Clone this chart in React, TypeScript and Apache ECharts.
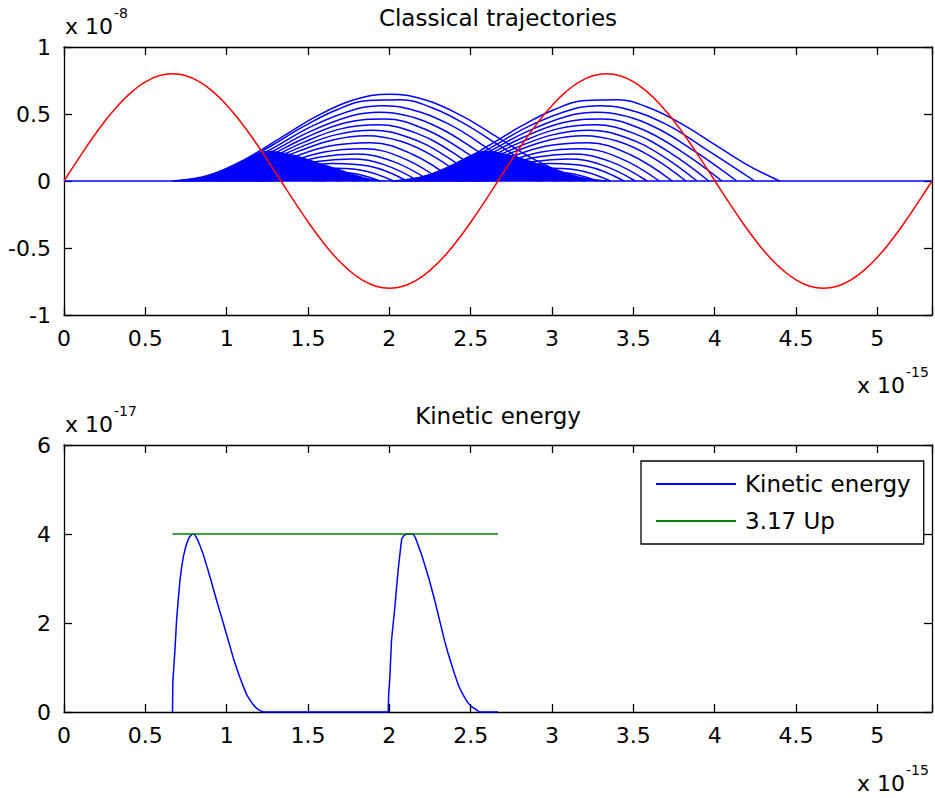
import React, { useEffect, useRef } from 'react';
import * as echarts from 'echarts';

const FONT = '"DejaVu Sans", sans-serif';

// time axis (units of 1e-15 s): two optical cycles
const X_MAX = 5.336;
const X_INTERVAL = 0.5;
const TOP_Y = { min: -1, max: 1, interval: 0.5 };
const BOT_Y = { min: 0, max: 6, interval: 2 };

// red curve (driving field, units of 1e-8)
const RED_T = [0, 0.0834, 0.1668, 0.2501, 0.3335, 0.4169, 0.5003, 0.5836, 0.667, 0.7504, 0.8338, 0.9171, 1.0005, 1.0839, 1.1673, 1.2506, 1.334, 1.4174, 1.5008, 1.5841, 1.6675, 1.7509, 1.8343, 1.9176, 2.001, 2.0844, 2.1678, 2.2511, 2.3345, 2.4179, 2.5013, 2.5846, 2.668, 2.7514, 2.8348, 2.9181, 3.0015, 3.0849, 3.1683, 3.2516, 3.335, 3.4184, 3.5018, 3.5851, 3.6685, 3.7519, 3.8353, 3.9186, 4.002, 4.0854, 4.1688, 4.2521, 4.3355, 4.4189, 4.5023, 4.5856, 4.669, 4.7524, 4.8358, 4.9191, 5.0025, 5.0859, 5.1693, 5.2526, 5.336];
const RED_V = [0, 0.156, 0.306, 0.444, 0.566, 0.665, 0.739, 0.785, 0.8, 0.785, 0.739, 0.665, 0.566, 0.444, 0.306, 0.156, 0, -0.156, -0.306, -0.444, -0.566, -0.665, -0.739, -0.785, -0.8, -0.785, -0.739, -0.665, -0.566, -0.444, -0.306, -0.156, 0, 0.156, 0.306, 0.444, 0.566, 0.665, 0.739, 0.785, 0.8, 0.785, 0.739, 0.665, 0.566, 0.444, 0.306, 0.156, 0, -0.156, -0.306, -0.444, -0.566, -0.665, -0.739, -0.785, -0.8, -0.785, -0.739, -0.665, -0.566, -0.444, -0.306, -0.156, 0];

// blue baseline
const BASE_T = [0, 5.336];
const BASE_V = [0, 0];

// classical trajectories of the first half-cycle (times and heights)
const ARC_T: number[][] = [
  [0.667, 0.8893, 1.1117, 1.334, 1.5563, 1.7787, 2.001, 2.2233, 2.4457, 2.668, 2.8903, 3.1127, 3.335],
  [0.6818, 0.8803, 1.0789, 1.2774, 1.4759, 1.6744, 1.873, 2.0715, 2.27, 2.4685, 2.667, 2.8655, 3.0641],
  [0.7041, 0.98, 1.2559, 1.5318, 1.8077, 1.964, 2.0836, 2.3595, 2.6354, 2.9113],
  [0.7263, 0.9857, 1.2452, 1.5046, 1.764, 1.9417, 2.0235, 2.2829, 2.5423, 2.8018],
  [0.7485, 0.9938, 1.2391, 1.4843, 1.7296, 1.9748, 2.2201, 2.4653, 2.7106],
  [0.7707, 1.0032, 1.2356, 1.468, 1.7005, 1.9329, 2.1653, 2.3978, 2.6302],
  [0.793, 1.0135, 1.234, 1.4545, 1.675, 1.8955, 2.1161, 2.3366, 2.5571],
  [0.8152, 1.0245, 1.2337, 1.443, 1.6522, 1.8615, 2.0707, 2.28, 2.4892],
  [0.8449, 1.1049, 1.3649, 1.6249, 1.8849, 2.1449, 2.4049],
  [0.8745, 1.1164, 1.3583, 1.6001, 1.842, 2.0839, 2.3257],
  [0.9042, 1.1285, 1.353, 1.5773, 1.8017, 2.0261, 2.2505],
  [0.9338, 1.1412, 1.3487, 1.5561, 1.7635, 1.971, 2.1784],
  [0.9634, 1.1925, 1.4216, 1.6507, 1.8798, 2.1088],
  [1.0005, 1.2053, 1.4102, 1.615, 1.8198, 2.0247],
  [1.0376, 1.2186, 1.3998, 1.5809, 1.7619, 1.943],
  [1.0746, 1.272, 1.4694, 1.6668, 1.8642],
  [1.1117, 1.28, 1.4483, 1.6166, 1.7848],
  [1.1561, 1.2904, 1.4246, 1.5588, 1.6931],
  [1.2006, 1.3344, 1.4683, 1.6021],
];
const ARC_H: number[][] = [
  [0, 0.0434, 0.162, 0.324, 0.486, 0.6046, 0.648, 0.6046, 0.486, 0.324, 0.162, 0.0434, 0],
  [0, 0.0346, 0.1301, 0.2648, 0.4089, 0.5301, 0.6014, 0.6064, 0.5427, 0.4229, 0.2717, 0.1203, 0],
  [0, 0.0646, 0.2268, 0.4132, 0.5404, 0.5617, 0.5489, 0.4279, 0.2192, 0],
  [0, 0.0563, 0.1985, 0.3649, 0.4854, 0.5126, 0.5066, 0.4108, 0.2225, 0],
  [0, 0.0496, 0.1748, 0.3232, 0.4353, 0.4629, 0.3857, 0.217, 0],
  [0, 0.0438, 0.1542, 0.2862, 0.3889, 0.4197, 0.357, 0.2066, 0],
  [0, 0.0388, 0.1359, 0.253, 0.3461, 0.3779, 0.3269, 0.1937, 0],
  [0, 0.0341, 0.1194, 0.2229, 0.3067, 0.3381, 0.2965, 0.1788, 0],
  [0, 0.0488, 0.1582, 0.2589, 0.2852, 0.1981, 0],
  [0, 0.0405, 0.1313, 0.2162, 0.2411, 0.1707, 0],
  [0, 0.0333, 0.1078, 0.1783, 0.2008, 0.1445, 0],
  [0, 0.027, 0.0873, 0.1449, 0.1646, 0.1202, 0],
  [0, 0.0299, 0.0898, 0.131, 0.1097, 0],
  [0, 0.0219, 0.0659, 0.0966, 0.082, 0],
  [0, 0.0155, 0.0465, 0.0687, 0.0589, 0],
  [0, 0.0153, 0.0407, 0.0444, 0],
  [0, 0.0097, 0.0257, 0.0284, 0],
  [0, 0.005, 0.0133, 0.0147, 0],
  [0, 0.0033, 0.0066, 0],
];
// densely packed (solid-looking) part of each bundle of trajectories
const SOLID_T = [0.667, 0.75, 0.8, 0.85, 0.9, 0.95, 1.0, 1.05, 1.1, 1.15, 1.2, 1.25, 1.3, 1.4, 1.5, 1.6, 1.7, 1.8, 1.9, 2.0];
const SOLID_V = [0, 0.0062, 0.0158, 0.0296, 0.0476, 0.0693, 0.0946, 0.1226, 0.1545, 0.185, 0.21, 0.225, 0.222, 0.2, 0.165, 0.125, 0.085, 0.045, 0.015, 0];

// second half-cycle: same family shifted by half a period (its first birth is just after the trough)
const GROUP_SHIFT = [0, 1.334];
const GROUP_FIRST_ARC = [0, 1];

// kinetic energy at return vs. birth time (units of 1e-17)
const KE_T = [0.667, 0.669, 0.682, 0.692, 0.703, 0.713, 0.723, 0.733, 0.744, 0.754, 0.769, 0.785, 0.795, 0.805, 0.82, 0.836, 0.857, 0.877, 0.898, 0.918, 0.938, 0.959, 0.98, 1.0, 1.021, 1.041, 1.062, 1.082, 1.103, 1.123, 1.144, 1.164, 1.185, 1.205, 1.227,
  1.993, 1.996, 2.003, 2.013, 2.024, 2.035, 2.045, 2.055, 2.066, 2.076, 2.091, 2.106, 2.127, 2.147, 2.162, 2.178, 2.199, 2.219, 2.24, 2.26, 2.281, 2.301, 2.321, 2.341, 2.362, 2.383, 2.404, 2.424, 2.444, 2.465, 2.485, 2.505, 2.521, 2.536, 2.555, 2.668];
const KE_V = [0, 0.68, 1.39, 2.06, 2.55, 2.96, 3.25, 3.48, 3.65, 3.78, 3.92, 3.99, 4.0, 3.98, 3.88, 3.74, 3.53, 3.29, 3.03, 2.77, 2.51, 2.25, 1.99, 1.73, 1.47, 1.21, 0.98, 0.77, 0.57, 0.39, 0.26, 0.16, 0.08, 0.03, 0,
  0, 0.4, 0.77, 1.59, 2.0, 2.4, 2.82, 3.22, 3.58, 3.89, 3.97, 4.0, 4.0, 4.0, 3.9, 3.74, 3.53, 3.29, 3.04, 2.77, 2.48, 2.18, 1.88, 1.58, 1.31, 1.06, 0.82, 0.61, 0.45, 0.31, 0.2, 0.12, 0.08, 0.05, 0, 0];

// 3.17 Up cutoff line
const UP_T = [0.667, 2.668];
const UP_V = [4, 4];

const TICK_FONT = 22;
const AXIS_COLOR = '#000';

function xFmt(v: number) {
  const r = Math.round(v / X_INTERVAL) * X_INTERVAL;
  return Math.abs(v - r) < 1e-6 ? String(r) : '';
}

function mkX(grid: number, pos: 'bottom' | 'top', labels: boolean) {
  return {
    type: 'value', gridIndex: grid, position: pos, min: 0, max: X_MAX, interval: X_INTERVAL,
    axisLine: { show: true, onZero: false, lineStyle: { color: AXIS_COLOR, width: 1.3 } },
    axisTick: { show: true, inside: true, length: 8, lineStyle: { color: AXIS_COLOR, width: 1.3 } },
    axisLabel: { show: labels, color: '#000', fontSize: TICK_FONT, fontFamily: FONT, margin: 12, formatter: xFmt },
    splitLine: { show: false },
  };
}

function mkY(grid: number, pos: 'left' | 'right', r: { min: number; max: number; interval: number }, labels: boolean) {
  return {
    type: 'value', gridIndex: grid, position: pos, min: r.min, max: r.max, interval: r.interval,
    axisLine: { show: true, onZero: false, lineStyle: { color: AXIS_COLOR, width: 1.3 } },
    axisTick: { show: true, inside: true, length: 8, lineStyle: { color: AXIS_COLOR, width: 1.3 } },
    axisLabel: { show: labels, color: '#000', fontSize: TICK_FONT, fontFamily: FONT, margin: 13 },
    splitLine: { show: false },
  };
}

function txt(text: string, x: number, y: number, size: number, align = 'left') {
  return {
    type: 'text', x, y, silent: true,
    style: { text, fill: '#000', fontSize: size, fontFamily: FONT, align, textAlign: align, verticalAlign: 'middle', textVerticalAlign: 'middle' },
  };
}

export default function App() {
  const ref = useRef<HTMLDivElement>(null);
  useEffect(() => {
    if (!ref.current) return;
    const chart = echarts.init(ref.current, null, { renderer: 'svg' });
    const series: any[] = [];
    series.push({
      type: 'line', xAxisIndex: 0, yAxisIndex: 0, symbol: 'none', silent: true,
      data: BASE_T.map((t, i) => [t, BASE_V[i]]), lineStyle: { color: '#0000ff', width: 1.5 }, z: 2,
    });
    GROUP_SHIFT.forEach((shift, g) => {
      series.push({
        type: 'line', xAxisIndex: 0, yAxisIndex: 0, symbol: 'none', silent: true, smooth: 0.4,
        data: SOLID_T.map((t, i) => [t + shift, SOLID_V[i]]),
        lineStyle: { width: 0, color: '#0000ff' }, areaStyle: { color: '#0000ff', opacity: 1 }, z: 1,
      });
      ARC_T.forEach((ts, i) => {
        if (i < GROUP_FIRST_ARC[g]) return;
        series.push({
          type: 'line', xAxisIndex: 0, yAxisIndex: 0, symbol: 'none', silent: true, smooth: 0.4,
          data: ts.map((t, j) => [t + shift, ARC_H[i][j]]),
          lineStyle: { color: '#0000ff', width: 1.5 }, z: 2,
        });
      });
    });
    series.push({
      type: 'line', xAxisIndex: 0, yAxisIndex: 0, symbol: 'none', silent: true, smooth: 0.5,
      data: RED_T.map((t, i) => [t, RED_V[i]]), lineStyle: { color: '#ff0000', width: 1.5 }, z: 4,
    });
    series.push({
      name: 'Kinetic energy', type: 'line', xAxisIndex: 2, yAxisIndex: 2, symbol: 'none', silent: true,
      data: KE_T.map((t, i) => [t, KE_V[i]]), lineStyle: { color: '#0000ff', width: 1.5 }, itemStyle: { color: '#0000ff' }, z: 3,
    });
    series.push({
      name: '3.17 Up', type: 'line', xAxisIndex: 2, yAxisIndex: 2, symbol: 'none', silent: true,
      data: UP_T.map((t, i) => [t, UP_V[i]]), lineStyle: { color: '#008000', width: 1.5 }, itemStyle: { color: '#008000' }, z: 3,
    });

    chart.setOption({
      animation: false,
      backgroundColor: '#fff',
      textStyle: { fontFamily: FONT },
      grid: [
        { left: 64, top: 47, width: 868, height: 268 },
        { left: 64, top: 445, width: 868, height: 267 },
      ],
      xAxis: [mkX(0, 'bottom', true), mkX(0, 'top', false), mkX(1, 'bottom', true), mkX(1, 'top', false)],
      yAxis: [mkY(0, 'left', TOP_Y, true), mkY(0, 'right', TOP_Y, false), mkY(1, 'left', BOT_Y, true), mkY(1, 'right', BOT_Y, false)],
      legend: {
        data: ['Kinetic energy', '3.17 Up'],
        orient: 'vertical', left: 641, top: 461,
        padding: [11, 13, 11, 15], itemWidth: 80, itemHeight: 2, itemGap: 13,
        icon: 'rect',
        backgroundColor: '#fff', borderColor: '#000', borderWidth: 1.3,
        textStyle: { color: '#000', fontSize: 23, lineHeight: 24, fontFamily: FONT, padding: [0, 0, 0, 4] },
        selectedMode: false,
      },
      graphic: [
        txt('Classical trajectories', 498, 18, 23, 'center'),
        txt('Kinetic energy', 498, 416, 23, 'center'),
        txt('x 10', 65, 26, 22), txt('-8', 114, 13, 14),
        txt('x 10', 65, 424, 22), txt('-17', 114, 411, 14),
        txt('x 10', 857, 385, 22), txt('-15', 906, 372, 14),
        txt('x 10', 857, 783, 22), txt('-15', 906, 770, 14),
      ],
      series,
    });
    return () => chart.dispose();
  }, []);
  return <div ref={ref} style={{ position: 'absolute', left: 0, top: 0, width: 935, height: 798 }} />;
}
